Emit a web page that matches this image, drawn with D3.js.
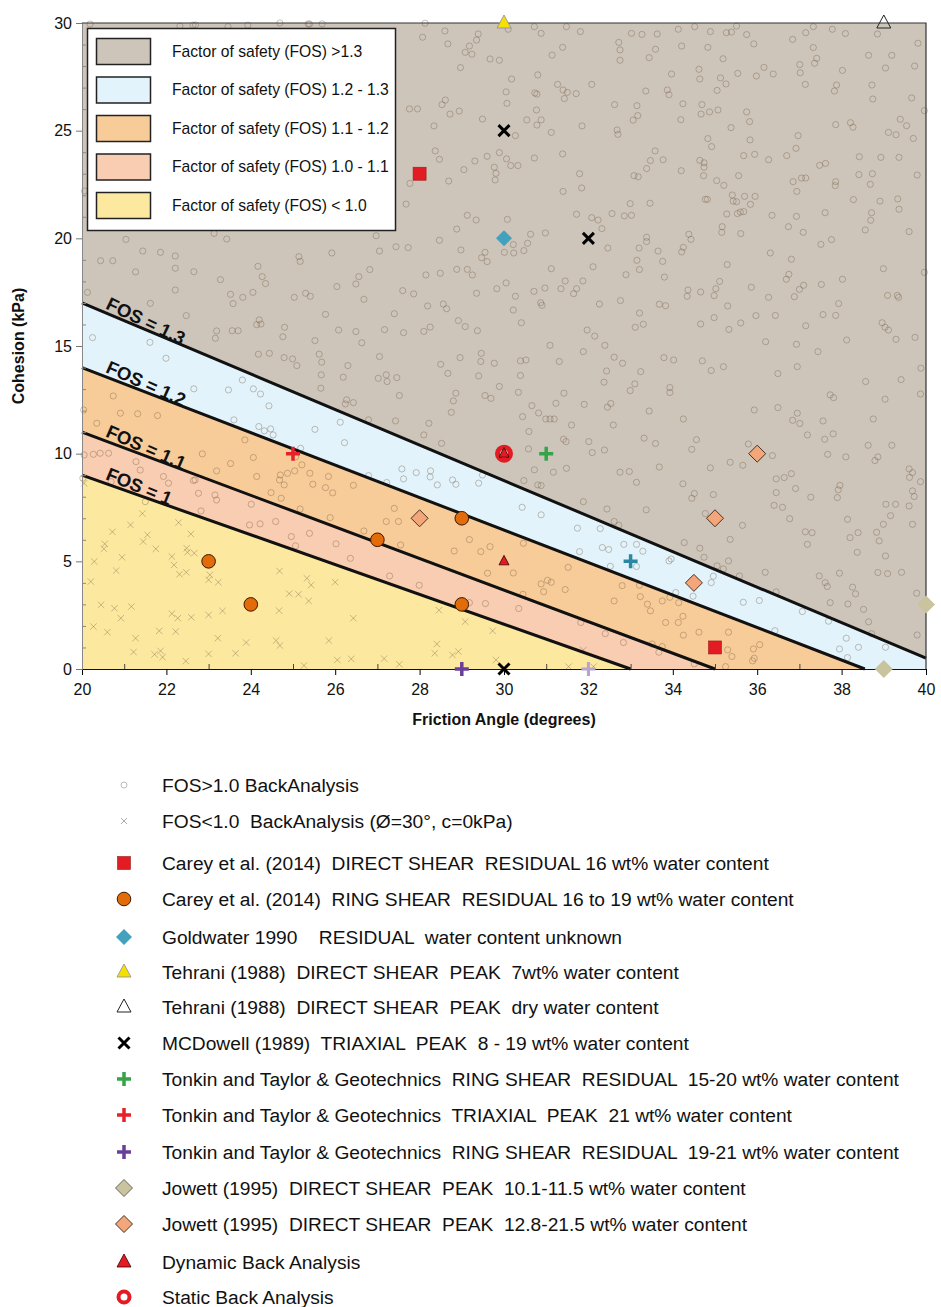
<!DOCTYPE html>
<html>
<head>
<meta charset="utf-8">
<script src="https://cdn.jsdelivr.net/npm/d3@7"></script>
<style>
  html, body { margin: 0; padding: 0; background: #fff; }
  svg text { font-family: "Liberation Sans", Arial, sans-serif; white-space: pre; }
</style>
</head>
<body>
<svg id="chart" width="941" height="1307"></svg>
<script>
// ---------- axis ticks ----------
const xTickValues = [20, 22, 24, 26, 28, 30, 32, 34, 36, 38, 40];
const xMinorTicks = [21, 23, 25, 27, 29, 31, 33, 35, 37, 39];
const yTickValues = [0, 5, 10, 15, 20, 25, 30];
const yMinorTicks = [1,2,3,4,6,7,8,9,11,12,13,14,16,17,18,19,21,22,23,24,26,27,28,29];

// ---------- factor-of-safety contour lines (friction angle, cohesion) ----------
const fosLabels = ["FOS = 1", "FOS = 1.1", "FOS = 1.2", "FOS = 1.3"];
const fosLines = [
  [[20, 9], [33, 0]],
  [[20, 11], [35, 0]],
  [[20, 14], [38.55, 0]],
  [[20, 17], [40, 0.5]]
];

// ---------- zone legend ----------
const zoneLabels = [
  "Factor of safety (FOS) >1.3",
  "Factor of safety (FOS) 1.2 - 1.3",
  "Factor of safety (FOS) 1.1 - 1.2",
  "Factor of safety (FOS) 1.0 - 1.1",
  "Factor of safety (FOS) < 1.0"
];
const zoneColors = ["#cdc5ba", "#e2f3fb", "#f7cc99", "#f8cdb1", "#fde89f"];

// ---------- back analysis cloud ----------
const stableBackAnalysis = [
[30.10,29.71],[30.72,29.83],[30.88,29.52],[31.48,29.83],[31.81,29.60],[33.02,29.52],[33.27,29.47],[33.63,29.49],[34.13,29.71],[34.52,29.83],[34.89,29.60],[35.27,29.55],[35.39,29.58],[35.51,29.86],[35.75,29.46],[36.84,29.24],[37.15,29.55],[37.33,29.83],[37.78,29.71],[38.09,29.51],[38.85,29.49],[39.81,29.06],[35.92,29.03],[34.21,28.93],[34.83,28.87],[33.59,28.78],[32.72,29.10],[32.75,28.75],[32.75,28.27],[31.39,28.87],[31.14,28.51],[33.44,28.39],[35.19,28.34],[37.33,28.86],[37.41,28.36],[37.36,28.13],[38.64,28.50],[39.19,28.50],[39.04,27.91],[39.73,28.00],[38.02,27.80],[37.01,28.07],[37.02,27.69],[36.16,27.94],[36.38,27.63],[35.98,27.54],[35.54,27.66],[34.62,27.85],[34.64,27.40],[35.13,27.45],[35.26,27.17],[35.05,26.87],[33.97,27.63],[33.36,26.84],[33.87,26.89],[33.91,26.67],[34.24,26.25],[34.69,26.21],[34.67,25.77],[34.87,25.87],[35.07,25.96],[35.75,25.87],[35.82,25.42],[35.38,25.14],[34.19,25.51],[33.15,26.16],[33.17,25.70],[33.06,25.49],[32.62,26.21],[32.08,27.15],[31.71,26.72],[31.43,26.49],[31.40,26.89],[31.50,26.78],[31.27,27.15],[30.80,27.59],[30.73,26.75],[30.78,26.70],[30.18,27.40],[30.05,26.80],[30.07,26.27],[30.77,25.96],[30.88,25.50],[30.54,25.50],[30.78,25.26],[31.12,24.92],[31.85,25.22],[32.68,25.03],[32.70,24.83],[30.27,24.77],[37.14,27.15],[37.88,27.12],[37.83,26.84],[38.72,27.12],[38.74,26.47],[39.66,26.52],[39.96,25.93],[39.39,25.53],[39.54,25.23],[39.11,24.92],[39.29,24.81],[39.70,24.64],[37.86,25.28],[38.21,25.37],[38.27,25.16],[36.97,24.77],[36.92,24.18],[36.70,23.84],[36.27,23.65],[35.94,23.90],[35.68,23.84],[35.83,24.57],[34.83,24.63],[34.92,24.26],[33.58,24.06],[33.47,23.61],[33.77,23.65],[33.38,23.24],[33.08,22.91],[33.18,22.86],[34.20,23.14],[34.64,23.62],[34.74,23.51],[34.74,23.30],[34.73,22.91],[35.04,22.68],[35.21,22.46],[35.56,22.91],[35.41,22.01],[35.43,21.73],[35.51,21.70],[35.70,21.95],[35.95,21.95],[35.84,21.58],[34.77,21.81],[34.82,21.81],[35.28,21.13],[35.53,21.15],[35.60,21.22],[35.68,21.24],[36.35,21.07],[35.17,20.54],[35.16,20.28],[35.61,20.22],[36.93,21.02],[36.74,20.54],[37.09,20.28],[36.85,22.63],[36.94,22.18],[37.05,22.80],[37.15,22.80],[37.48,23.39],[37.62,23.48],[37.86,22.63],[37.85,22.45],[38.42,23.79],[38.93,23.76],[39.36,23.76],[39.79,22.94],[38.41,22.96],[38.73,23.00],[38.68,22.51],[38.28,21.80],[38.91,21.73],[39.33,21.83],[39.36,21.35],[38.71,21.19],[38.69,20.84],[38.56,20.39],[39.60,20.31],[37.61,21.19],[37.51,19.72],[37.76,19.94],[30.72,23.73],[31.39,23.92],[30.06,23.69],[30.16,23.38],[30.33,23.38],[31.79,23.00],[31.40,22.18],[31.84,22.34],[32.99,21.61],[33.46,21.63],[32.56,21.15],[32.85,21.04],[33.02,21.07],[31.72,21.12],[32.08,20.96],[32.23,20.85],[32.32,20.45],[30.08,20.88],[30.63,20.19],[30.98,20.25],[30.22,19.71],[30.56,19.77],[30.47,19.43],[30.01,19.35],[30.23,19.32],[32.46,19.55],[33.20,19.55],[33.38,20.05],[33.38,19.85],[33.65,19.41],[33.15,18.98],[33.76,18.93],[33.21,18.55],[32.89,18.31],[33.80,18.20],[34.38,20.19],[34.43,19.95],[34.25,19.58],[34.21,19.37],[31.12,18.59],[32.11,18.68],[31.45,18.02],[31.87,18.02],[30.05,17.93],[30.27,17.31],[30.71,17.54],[30.97,17.69],[31.35,17.66],[31.72,17.66],[31.65,17.43],[30.87,17.01],[30.90,16.89],[30.22,16.67],[30.41,16.08],[32.26,16.95],[32.76,17.11],[33.68,16.94],[33.83,16.87],[33.21,16.53],[33.11,15.87],[33.30,16.01],[31.97,15.74],[32.15,15.46],[32.39,15.03],[31.09,15.03],[36.31,19.32],[36.81,19.03],[35.29,18.78],[35.11,18.00],[35.02,17.66],[34.98,17.34],[34.36,17.60],[34.34,17.31],[34.66,17.51],[35.30,16.86],[34.98,16.32],[34.66,16.02],[35.33,15.77],[35.61,16.07],[35.97,16.41],[36.43,16.42],[35.86,17.73],[36.27,17.26],[36.75,18.33],[36.69,18.10],[37.00,17.63],[37.10,17.82],[36.88,17.29],[37.52,17.86],[38.02,18.10],[37.93,16.97],[37.56,16.46],[37.86,16.42],[37.15,15.94],[36.20,15.20],[36.93,15.08],[38.12,15.28],[38.99,18.59],[39.09,17.35],[39.32,17.35],[39.35,17.26],[38.96,16.08],[39.03,15.87],[39.11,15.74],[39.29,15.31],[39.74,15.40],[39.96,18.42],
[20.19,29.95],[22.32,29.86],[22.63,29.90],[23.46,29.83],[23.93,29.90],[24.69,30.00],[25.36,29.96],[25.69,29.96],[28.13,29.99],[25.39,29.95],[22.69,29.91],
[28.07,29.34],[28.60,29.63],[28.67,29.03],[29.39,29.49],[29.35,29.21],[29.18,28.93],[29.08,28.64],[29.24,28.55],[29.67,28.33],[29.89,28.27],[28.97,27.93],[28.61,26.42],[28.53,26.21],[28.72,25.77],[28.94,25.91],[29.49,25.54],[28.34,25.22],[27.76,26.01],[27.95,26.01],[28.37,24.06],[28.47,23.67],[29.31,23.59],[29.60,23.81],[29.89,23.98],[29.05,23.19],[29.77,23.30],[29.81,23.02],[29.79,22.71],[28.69,22.66],[27.77,22.55],[27.68,21.59],[29.13,21.07],[29.34,20.85],[28.88,20.43],[28.47,19.91],[27.44,19.61],[27.73,19.57],[27.05,19.41],[26.97,20.12],[28.98,19.46],[29.55,19.35],[29.47,19.10],[29.60,18.92],[28.88,18.56],[29.13,18.56],[29.25,18.30],[28.49,18.38],[28.15,18.30],[29.83,17.66],[29.35,17.45],[28.19,16.86],[28.56,16.95],[28.64,16.73],[28.92,16.18],[29.08,15.90],[29.37,15.71],[28.10,15.68],[28.25,15.88],[27.60,17.57],[27.86,17.42],[27.40,16.50],[27.62,15.62],[27.17,15.76],[26.63,15.15],[26.49,15.67],[26.08,15.74],[25.77,16.47],[26.68,17.17],[26.82,18.55],[26.56,18.22],[26.49,17.88],[26.04,17.76],[25.92,19.32],[25.14,19.15],[25.17,18.93],[24.27,18.22],[24.35,17.90],[24.17,18.70],[24.05,17.49],[23.28,18.08],[22.21,18.61],[22.21,17.60],[21.86,19.35],[22.21,19.18],[21.44,19.41],[21.04,19.95],[20.44,18.96],[20.73,18.96],[21.27,18.44],[22.65,18.45],[23.43,19.97],[23.13,20.23],[23.52,17.40],[23.81,17.26],[23.58,16.97],[25.03,17.26],[25.30,17.45],[25.41,17.31],[24.20,16.21],[24.14,15.99],[24.24,16.02],[23.56,15.71],[23.70,15.71],[23.19,15.70],[23.16,15.36],[24.80,15.87],[24.76,15.43],[25.52,15.25],[22.47,16.41],[21.62,16.98],[20.13,17.49],[20.25,15.39],[21.61,15.17],[20.06,22.20],
[24.18,14.62],[24.44,14.66],[24.79,14.46],[24.99,14.40],[25.09,14.09],[25.62,14.62],[25.68,14.25],[25.67,13.66],[25.66,13.04],[26.30,14.09],[26.19,13.55],[27.02,13.50],[27.21,13.66],[27.23,13.35],[27.46,13.53],[27.05,14.51],[28.50,14.15],[28.67,13.73],[28.96,14.46],[29.46,14.66],[29.45,14.28],[29.77,14.20],[29.40,13.61],[29.89,13.12],[28.86,12.81],[28.80,12.45],[28.75,11.92],[29.55,12.70],[29.69,12.57],[27.52,12.70],[26.27,12.50],[26.24,12.31],[26.43,12.37],[26.79,11.57],[27.43,11.52],[28.22,11.41],[28.10,10.87],[28.52,10.48],
[21.99,14.43],[22.65,13.01],[23.47,12.96],[23.80,13.42],[24.06,13.01],[24.23,12.77],[24.43,12.22],[23.60,11.57],[24.19,11.26],[24.32,11.06],[24.47,11.15],[24.53,10.87],[25.52,11.13],[26.12,11.46],[26.22,10.51],[27.58,9.29],[27.92,9.12],[28.26,9.20],[28.25,8.92],[27.62,8.83],[28.42,8.55],[28.78,8.78],[28.86,8.58],[29.40,8.63],[29.49,9.01],[27.22,8.66],[26.79,8.98],[25.18,10.25],[25.06,9.85],
[20.74,12.68],[20.91,11.88],[21.32,11.85],[21.79,11.77],[20.35,11.41],[20.04,12.03],[20.05,9.94],[20.27,9.97],[20.43,10.02],[20.63,10.02],[21.28,9.63],[21.38,9.24],[22.68,8.78],[22.85,9.99],[23.19,9.20],[23.52,9.54],[23.86,10.64],[24.06,9.82],[24.14,8.94],[24.70,9.01],[24.68,8.78],[24.79,8.55],[24.87,9.09],[25.04,9.20],[25.21,9.48],[25.40,9.09],[25.84,8.94],[25.47,8.58],[25.77,8.42],[25.94,8.18],[26.43,8.53],[24.48,8.19],[24.72,7.93],[24.01,7.65],[25.17,7.43],[25.88,7.03],[27.21,6.85],[27.40,7.46],[27.50,6.85],[26.68,6.41],[27.55,5.76],[29.67,5.68],[29.45,5.45],[28.82,5.48],[29.18,6.01],[29.61,4.45],
[20.02,8.86],[20.69,8.70],[21.93,8.94],[22.05,8.63],[22.64,8.75],[22.76,8.16],[23.15,8.08],[23.19,7.85],[22.82,7.34],[23.97,6.69],[24.22,6.74],[24.59,6.85],[24.96,6.15],[25.06,5.72],[25.39,6.30],[26.02,5.81],[26.36,5.14],[27.29,4.32],[27.99,3.89],[29.18,3.08],[29.56,3.04],[21.50,7.77],
[31.88,14.74],[30.39,14.31],[30.52,14.35],[31.31,14.28],[32.61,14.48],[32.81,14.20],[33.79,14.46],[34.02,14.35],[34.70,14.31],[34.91,13.86],[35.20,14.04],[37.44,14.74],[36.95,14.04],[36.49,13.72],[30.39,13.63],[32.43,13.84],[33.24,13.81],[32.37,13.32],[33.10,13.24],[32.99,12.93],[33.93,13.07],[33.93,12.84],[30.34,12.85],[31.42,12.81],[30.66,12.23],[31.23,12.34],[30.82,11.89],[31.90,12.29],[32.45,12.16],[32.53,12.33],[33.44,11.98],[34.25,11.61],[30.44,11.72],[30.99,11.61],[31.09,11.61],[31.19,11.61],[31.60,11.33],[32.59,11.33],[30.59,11.03],[31.41,10.67],[31.47,10.56],[32.01,10.56],[32.09,10.05],[32.38,10.17],[33.32,10.72],[33.59,10.47],[34.56,10.65],[34.45,10.20],[35.93,12.03],[36.49,12.14],[36.95,11.88],[36.84,11.55],[37.01,11.40],[37.56,11.52],[37.19,10.87],[37.60,10.67],[37.80,10.92],[38.57,13.35],[39.41,13.44],[39.88,13.97],[37.73,12.73],[37.81,12.60],[39.03,12.53],[39.87,12.77],[38.75,11.61],[38.63,10.39],[39.19,10.39],[37.67,9.97],[38.10,9.85],[38.79,9.68],[38.86,9.85],[39.60,9.29],[39.68,9.12],[39.61,8.90],[39.87,8.70],[39.68,8.27],[39.72,8.01],[39.60,7.57],[39.05,7.65],[39.28,7.65],[39.16,7.12],[38.99,6.72],[38.83,6.35],[38.89,5.95],[39.68,6.72],[39.04,5.25],[38.86,4.48],[39.09,4.43],[39.42,4.49],[38.14,6.95],[38.39,6.33],[38.20,6.10],[38.37,5.42],[37.96,8.53],[37.92,8.32],[37.90,7.96],[37.27,7.98],[37.14,6.37],[37.30,6.33],[37.19,5.79],[36.91,8.38],[36.77,6.98],[36.40,7.60],[36.60,7.51],[36.45,8.83],[36.64,8.89],[36.81,9.07],[36.45,8.19],[37.95,4.45],[37.47,4.32],[37.61,4.01],[37.66,3.83],[38.26,3.80],[38.33,3.49],[37.73,3.08],[38.15,3.02],[38.52,2.77],[38.64,2.19],[39.78,3.52],[39.79,1.58],[38.71,1.64],[36.19,4.49],[35.58,4.32],[36.45,3.58],[35.32,5.02],[35.05,4.79],[35.20,4.65],[34.74,5.19],[34.64,5.61],[34.27,5.87],[35.36,6.02],[35.65,6.67],[34.77,7.22],[34.96,8.10],[34.51,8.15],[34.45,7.93],[34.24,8.60],[34.89,9.34],[35.36,9.60],[35.66,9.46],[35.79,10.45],[36.36,9.91],[33.68,9.38],[32.75,9.14],[32.97,9.17],[33.14,8.67],[31.48,9.32],[31.17,9.14],[30.72,9.25],[30.58,10.22],[30.47,8.75],[30.80,8.55],[30.88,8.52],[31.88,7.77],[32.44,7.43],[33.37,7.39],[32.72,6.68],[32.61,6.85],
[30.43,7.51],[30.88,7.16],[31.74,6.54],[32.28,6.52],[31.79,5.45],[32.33,5.64],[32.48,5.55],[32.84,5.79],[33.14,5.79],[33.29,5.47],[32.52,4.77],[33.14,4.76],[33.96,5.11],[33.91,5.02],[34.07,3.55],[34.48,3.38],[34.91,4.01],[34.96,4.31],[35.67,3.10],[36.05,3.18],[37.07,2.67],[37.69,2.22],[36.42,1.78],[38.11,1.43],[37.95,0.93],[38.40,1.01],[39.04,1.01],[38.14,0.53],
[30.46,5.84],[30.22,4.46],[31.52,4.72],[30.88,3.95],[31.03,4.12],[31.12,4.03],[30.94,3.59],[31.45,3.69],[30.45,3.47],[30.35,2.81],[32.61,3.16],[32.80,3.87],[33.21,3.89],[33.23,3.36],[33.40,3.01],[33.47,2.70],[33.75,3.16],[33.93,3.33],[34.14,3.08],[34.24,2.45],[34.13,2.16],[33.83,2.16],[34.62,1.71],[34.25,1.57],[35.32,1.71],[35.30,0.89],[35.40,0.58],[35.91,0.93],[36.06,1.13],[35.93,0.50],[35.89,0.38],[35.25,0.11],[34.51,0.24],[32.40,1.64],[32.83,1.23],[33.67,0.78],[33.51,1.16],[33.75,1.04],[31.82,2.16]
];

const failedBackAnalysis = [
[21.43,7.22],[21.15,6.69],[20.72,6.37],[21.55,6.23],[21.45,5.92],[20.54,5.81],[20.52,5.58],[21.75,5.58],[22.29,6.80],[22.58,6.27],[22.48,5.61],[22.50,5.42],[22.66,5.38],[22.13,5.22],[22.18,4.83],[20.95,5.19],[20.29,4.99],[20.81,4.57],[20.21,4.06],[22.31,4.40],[22.47,4.49],[23.03,4.37],[23.00,4.14],[23.23,4.03],[24.68,4.55],[25.33,4.21],[25.43,3.90],[26.00,4.03],[24.91,3.50],[25.13,3.47],[25.37,3.16],[20.45,2.98],[20.77,2.82],[21.17,2.90],[20.92,2.36],[22.13,2.57],[22.27,2.36],[22.59,2.40],[23.00,2.51],[23.33,2.70],[24.67,2.71],[26.43,2.36],[28.46,2.73],[29.08,2.20],[29.73,1.77],[20.27,1.97],[20.60,1.71],[21.27,1.43],[21.83,1.77],[22.22,1.74],[23.22,1.43],[23.89,1.23],[24.60,1.32],[24.69,1.09],[25.85,1.32],[21.22,0.79],[21.72,0.68],[21.86,0.84],[21.91,0.55],[22.46,0.37],[23.00,0.70],[23.64,0.73],[25.26,0.16],[26.05,0.42],[26.38,0.47],[27.16,0.48],[27.52,0.22],[28.41,1.16],[28.36,0.73],[28.78,0.65],[28.92,0.81],[29.81,0.42],[31.53,0.11],[31.88,0.88],[32.12,0.11],[20.05,8.62]
];

// ---------- laboratory test results ----------
const careyDirectShear = [[28, 23], [35, 1]];
const careyRingShear = [[23, 5], [24, 3], [27, 6], [29, 7], [29, 3]];
const goldwater = [[30, 20]];
const tehraniWet = [[30, 30]];
const tehraniDry = [[39, 30]];
const mcdowell = [[30, 25], [32, 20], [30, 0]];
const ttRingShear1520 = [[31, 10]];
const ttTriaxial = [[25, 10]];
const ttRingShear1921 = [[29, 0]];
const ttRingShear1921Faint = [[32, 0]];
const ttTeal = [[33, 5]];
const jowettDry = [[40, 3], [39, 0]];
const jowettWet = [[28, 7], [36, 10], [35, 7], [34.5, 4]];
const dynamicBack = [[30, 5], [30, 10]];
const staticBack = [[30, 10]];

const seriesLabels = [
  "FOS>1.0 BackAnalysis",
  "FOS<1.0  BackAnalysis (\u00D8=30\u00B0, c=0kPa)",
  "Carey et al. (2014)  DIRECT SHEAR  RESIDUAL 16 wt% water content",
  "Carey et al. (2014)  RING SHEAR  RESIDUAL 16 to 19 wt% water content",
  "Goldwater 1990    RESIDUAL  water content unknown",
  "Tehrani (1988)  DIRECT SHEAR  PEAK  7wt% water content",
  "Tehrani (1988)  DIRECT SHEAR  PEAK  dry water content",
  "MCDowell (1989)  TRIAXIAL  PEAK  8 - 19 wt% water content",
  "Tonkin and Taylor & Geotechnics  RING SHEAR  RESIDUAL  15-20 wt% water content",
  "Tonkin and Taylor & Geotechnics  TRIAXIAL  PEAK  21 wt% water content",
  "Tonkin and Taylor & Geotechnics  RING SHEAR  RESIDUAL  19-21 wt% water content",
  "Jowett (1995)  DIRECT SHEAR  PEAK  10.1-11.5 wt% water content",
  "Jowett (1995)  DIRECT SHEAR  PEAK  12.8-21.5 wt% water content",
  "Dynamic Back Analysis",
  "Static Back Analysis"
];

// ---------- drawing ----------
const svg = d3.select("#chart");
const x = d3.scaleLinear().domain([20, 40]).range([82, 926]);
const y = d3.scaleLinear().domain([0, 30]).range([669, 23]);

const plot = svg.append("g");

// zone fills
plot.append("rect")
  .attr("x", x(20)).attr("y", y(30))
  .attr("width", x(40) - x(20)).attr("height", y(0) - y(30))
  .attr("fill", zoneColors[0]);

function bandPolygon(upper, lower) {
  const pts = upper.slice();
  const end = upper[upper.length - 1];
  if (end[1] > 0) pts.push([end[0], 0]);
  return pts.concat(lower.slice().reverse());
}
const bands = [
  { poly: bandPolygon(fosLines[3], fosLines[2]), color: zoneColors[1] },
  { poly: bandPolygon(fosLines[2], fosLines[1]), color: zoneColors[2] },
  { poly: bandPolygon(fosLines[1], fosLines[0]), color: zoneColors[3] },
  { poly: bandPolygon(fosLines[0], [[20, 0]]), color: zoneColors[4] }
];
plot.selectAll("path.band").data(bands).join("path")
  .attr("class", "band")
  .attr("d", d => "M" + d.poly.map(p => [x(p[0]), y(p[1])].join(",")).join("L") + "Z")
  .attr("fill", d => d.color);

// back-analysis cloud
const cloudColor = "rgb(110,85,60)";
plot.append("g").selectAll("circle").data(stableBackAnalysis).join("circle")
  .attr("cx", d => x(d[0])).attr("cy", d => y(d[1])).attr("r", 3.1)
  .attr("fill", "none").attr("stroke", cloudColor).attr("stroke-opacity", 0.36).attr("stroke-width", 1);

plot.append("g").selectAll("path").data(failedBackAnalysis).join("path")
  .attr("transform", d => `translate(${x(d[0])},${y(d[1])})`)
  .attr("d", "M-3.2,-3.2L3.2,3.2M-3.2,3.2L3.2,-3.2")
  .attr("stroke", cloudColor).attr("stroke-opacity", 0.36).attr("stroke-width", 1).attr("fill", "none");

// contour lines
const line = d3.line().x(d => x(d[0])).y(d => y(d[1]));
plot.selectAll("path.fos").data(fosLines).join("path")
  .attr("class", "fos").attr("d", line)
  .attr("fill", "none").attr("stroke", "#111").attr("stroke-width", 3);

// contour labels along the lines
fosLines.forEach((ln, i) => {
  const [p0, p1] = ln;
  const ang = Math.atan2(y(p1[1]) - y(p0[1]), x(p1[0]) - x(p0[0])) * 180 / Math.PI;
  const phi = 20.5;
  const c = p0[1] + (p1[1] - p0[1]) * (phi - p0[0]) / (p1[0] - p0[0]);
  plot.append("text")
    .attr("transform", `translate(${x(phi)},${y(c)}) rotate(${ang + 3}) translate(0,-4)`)
    .attr("font-size", 18.5).attr("font-weight", "bold")
    .attr("fill", "#111")
    .text(fosLabels[i]);
});

// axes
const xAxis = d3.axisBottom(x).tickValues(xTickValues).tickSize(6).tickPadding(9).tickFormat(d3.format("d"));
const gx = svg.append("g").attr("transform", `translate(0,${y(0)})`).call(xAxis);
gx.selectAll("text").attr("font-size", 16).attr("fill", "#111").style("font-family", "Liberation Sans, Arial, sans-serif");
gx.select(".domain").attr("stroke", "#111");
const gxm = svg.append("g").attr("transform", `translate(0,${y(0)})`)
  .call(d3.axisBottom(x).tickValues(xMinorTicks).tickSize(-5).tickFormat(""));
gxm.select(".domain").remove();
gxm.selectAll("line").attr("stroke", "#444");

const yAxis = d3.axisLeft(y).tickValues(yTickValues).tickSize(6).tickPadding(4).tickFormat(d3.format("d"));
const gy = svg.append("g").attr("transform", `translate(${x(20)},0)`).call(yAxis);
gy.selectAll("text").attr("font-size", 16).attr("fill", "#111").style("font-family", "Liberation Sans, Arial, sans-serif");
gy.select(".domain").attr("stroke", "#888");
gy.selectAll(".tick line").attr("stroke", "#777");
const gym = svg.append("g").attr("transform", `translate(${x(20)},0)`)
  .call(d3.axisLeft(y).tickValues(yMinorTicks).tickSize(-4).tickFormat(""));
gym.select(".domain").remove();
gym.selectAll("line").attr("stroke", "#888");

// top and right frame
svg.append("path")
  .attr("d", `M${x(20)},${y(30)}H${x(40)}V${y(0)}`)
  .attr("fill", "none").attr("stroke", "#333").attr("stroke-width", 1.2);

svg.append("text")
  .attr("x", 504).attr("y", 725).attr("text-anchor", "middle")
  .attr("font-size", 16).attr("font-weight", "bold").attr("fill", "#111")
  .text("Friction Angle (degrees)");
svg.append("text")
  .attr("transform", "translate(24,346) rotate(-90)").attr("text-anchor", "middle")
  .attr("font-size", 16).attr("font-weight", "bold").attr("fill", "#111")
  .text("Cohesion (kPa)");

// ---------- marker shapes ----------
const markers = {
  stable:  g => g.append("circle").attr("r", 3).attr("fill", "none").attr("stroke", "#bbb").attr("stroke-width", 1),
  failed:  g => g.append("path").attr("d", "M-3,-3L3,3M-3,3L3,-3").attr("stroke", "#aaa").attr("stroke-width", 1),
  square:  g => g.append("rect").attr("x", -6.5).attr("y", -6.5).attr("width", 13).attr("height", 13)
                  .attr("fill", "#e31b23").attr("stroke", "#9a1a1a").attr("stroke-width", 0.6),
  circle:  g => g.append("circle").attr("r", 6.8).attr("fill", "#e36c0a").attr("stroke", "#3b1800").attr("stroke-width", 1),
  blueDiamond: g => g.append("path").attr("d", "M0,-8L8,0L0,8L-8,0Z").attr("fill", "#42a1bd"),
  yellowTri: g => g.append("path").attr("d", "M0,-8L7,5L-7,5Z").attr("fill", "#f5e100").attr("stroke", "#8f86a3").attr("stroke-width", 0.8),
  openTri: g => g.append("path").attr("d", "M0,-8L7,5L-7,5Z").attr("fill", "none").attr("stroke", "#222").attr("stroke-width", 1),
  blackX:  g => g.append("path").attr("d", "M-5.5,-5.5L5.5,5.5M-5.5,5.5L5.5,-5.5").attr("stroke", "#000").attr("stroke-width", 3),
  greenPlus: g => g.append("path").attr("d", "M-7,0H7M0,-7V7").attr("stroke", "#35a348").attr("stroke-width", 3.5),
  redPlus: g => g.append("path").attr("d", "M-7,0H7M0,-7V7").attr("stroke", "#e8202a").attr("stroke-width", 3.5),
  purplePlus: g => g.append("path").attr("d", "M-7,0H7M0,-7V7").attr("stroke", "#6b3f98").attr("stroke-width", 3.5),
  lilacPlus: g => g.append("path").attr("d", "M-7,0H7M0,-7V7").attr("stroke", "#b7a5cf").attr("stroke-width", 3),
  tealPlus: g => g.append("path").attr("d", "M-7,0H7M0,-7V7").attr("stroke", "#2b87a2").attr("stroke-width", 3.5),
  khakiDiamond: g => g.append("path").attr("d", "M0,-9L9,0L0,9L-9,0Z").attr("fill", "#c9c49d"),
  khakiDiamondEdge: g => g.append("path").attr("d", "M0,-8.5L8.5,0L0,8.5L-8.5,0Z").attr("fill", "#c9c49d").attr("stroke", "#444").attr("stroke-width", 0.8),
  salmonDiamond: g => g.append("path").attr("d", "M0,-8.5L8.5,0L0,8.5L-8.5,0Z").attr("fill", "#f3a679").attr("stroke", "#4a3020").attr("stroke-width", 1),
  redTri:  g => g.append("path").attr("d", "M0,-6L5,3.5L-5,3.5Z").attr("fill", "#e31b23").attr("stroke", "#3a0000").attr("stroke-width", 0.8),
  redTriBig: g => g.append("path").attr("d", "M0,-8L7,5L-7,5Z").attr("fill", "#e31b23").attr("stroke", "#3a0000").attr("stroke-width", 0.8),
  ring:    g => g.append("circle").attr("r", 6.5).attr("fill", "none").attr("stroke", "#e31b23").attr("stroke-width", 5),
  ringSmall: g => g.append("circle").attr("r", 5.5).attr("fill", "none").attr("stroke", "#e31b23").attr("stroke-width", 4)
};

function drawSeries(data, shape) {
  const g = svg.append("g");
  data.forEach(d => {
    const m = g.append("g").attr("transform", `translate(${x(d[0])},${y(d[1])})`);
    markers[shape](m);
  });
}

drawSeries(staticBack, "ring");
drawSeries(dynamicBack, "redTri");
drawSeries(careyRingShear, "circle");
drawSeries(careyDirectShear, "square");
drawSeries(goldwater, "blueDiamond");
drawSeries(tehraniWet, "yellowTri");
drawSeries(tehraniDry, "openTri");
drawSeries(jowettDry, "khakiDiamond");
drawSeries(jowettWet, "salmonDiamond");
drawSeries(ttRingShear1520, "greenPlus");
drawSeries(ttTriaxial, "redPlus");
drawSeries(ttRingShear1921Faint, "lilacPlus");
drawSeries(ttRingShear1921, "purplePlus");
drawSeries(ttTeal, "tealPlus");
drawSeries(mcdowell, "blackX");

// ---------- zone legend ----------
const zl = svg.append("g");
zl.append("rect").attr("x", 87.5).attr("y", 28.5).attr("width", 308).attr("height", 202)
  .attr("fill", "#fff").attr("stroke", "#222").attr("stroke-width", 1.5);
zoneLabels.forEach((t, i) => {
  const cy = 51 + i * 38.5;
  zl.append("rect").attr("x", 96.5).attr("y", cy - 12.5).attr("width", 54).attr("height", 26)
    .attr("fill", zoneColors[i]).attr("stroke", "#222").attr("stroke-width", 1.5);
  zl.append("text").attr("x", 172).attr("y", cy + 6)
    .attr("font-size", 16).attr("fill", "#111")
    .attr("transform", `translate(172,0) scale(0.98,1) translate(-172,0)`)
    .text(t);
});

// ---------- series legend ----------
const legendShapes = ["stable", "failed", "square", "circle", "blueDiamond", "yellowTri", "openTri",
  "blackX", "greenPlus", "redPlus", "purplePlus", "khakiDiamondEdge", "salmonDiamond", "redTriBig", "ringSmall"];
const legendRows = [785, 821, 863, 899, 937, 972, 1007, 1043, 1079, 1115, 1152, 1188, 1224, 1262, 1297];
const sl = svg.append("g");
seriesLabels.forEach((t, i) => {
  const m = sl.append("g").attr("transform", `translate(124,${legendRows[i]})`);
  markers[legendShapes[i]](m);
  sl.append("text").attr("x", 162).attr("y", legendRows[i] + 6.5)
    .attr("font-size", 19.2).attr("fill", "#111").text(t);
});
</script>
</body>
</html>
